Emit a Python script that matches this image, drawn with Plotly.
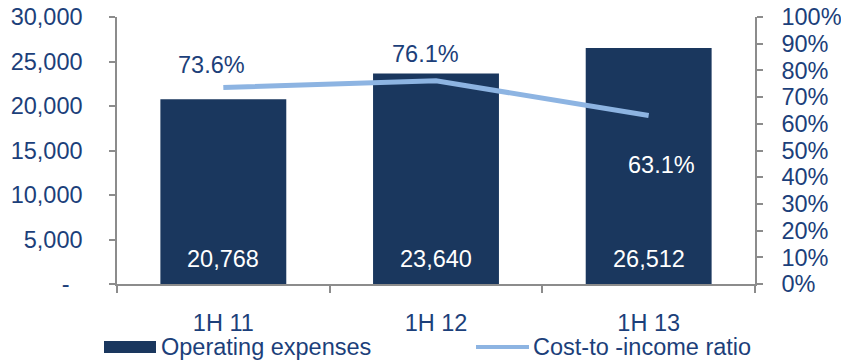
import plotly.graph_objects as go

# Half-year periods
periods = ["1H 11", "1H 12", "1H 13"]
# Operating expenses (bars, left axis)
opex = [20768, 23640, 26512]
# Cost-to-income ratio (line, right axis)
cost_income = [0.736, 0.761, 0.631]

left_ticks = [0, 5000, 10000, 15000, 20000, 25000, 30000]
left_tick_text = ["-\u00a0\u00a0", "5,000", "10,000", "15,000", "20,000", "25,000", "30,000"]

TEXT = "#1C3F7A"
BAR = "#1A375E"
LINE = "#8DB4E2"
AXIS = "#8C8C8C"
FONT = "Liberation Sans, Arial, sans-serif"
FS = 23.5

W, H = 841, 360
L, R, T, B = 117, 86, 17, 76
PW, PH = W - L - R, H - T - B


def px_x(x):
    return (x - L) / PW


def px_y(y):
    return (H - B - y) / PH


fig = go.Figure()

fig.add_trace(go.Bar(
    x=periods, y=opex, marker=dict(color=BAR, line=dict(width=0)),
    name="Operating expenses", showlegend=False, yaxis="y",
))
fig.add_trace(go.Scatter(
    x=periods, y=cost_income, mode="lines", line=dict(color=LINE, width=5),
    name="Cost-to -income ratio", showlegend=False, yaxis="y2",
))

# Value labels at the foot of each bar
for p, v in zip(periods, opex):
    fig.add_annotation(x=p, y=0, xref="x", yref="y", text=f"{v:,}",
                       showarrow=False, yanchor="middle", yshift=25,
                       font=dict(color="white", size=FS, family=FONT))

# Ratio labels next to the line points
ratio_offsets = [(-12, 22, TEXT), (-11, 27, TEXT), (13, -49, "white")]
for p, v, (dx, dy, col) in zip(periods, cost_income, ratio_offsets):
    fig.add_annotation(x=p, y=v, xref="x", yref="y2", text=f"{v*100:.1f}%",
                       showarrow=False, xshift=dx, yshift=dy,
                       font=dict(color=col, size=FS, family=FONT))

# Legend drawn below the category labels
fig.add_shape(type="rect", xref="paper", yref="paper",
              x0=px_x(104), x1=px_x(156), y0=px_y(353), y1=px_y(341),
              fillcolor=BAR, line=dict(width=0))
fig.add_annotation(xref="paper", yref="paper", x=px_x(159), y=px_y(347),
                   xanchor="left", yanchor="middle", showarrow=False,
                   text="Operating expenses", font=dict(color=TEXT, size=FS, family=FONT))
fig.add_shape(type="line", xref="paper", yref="paper",
              x0=px_x(476), x1=px_x(529), y0=px_y(347), y1=px_y(347),
              line=dict(color=LINE, width=4))
fig.add_annotation(xref="paper", yref="paper", x=px_x(531), y=px_y(347),
                   xanchor="left", yanchor="middle", showarrow=False,
                   text="Cost-to -income ratio", font=dict(color=TEXT, size=FS, family=FONT))

fig.update_layout(
    width=W, height=H,
    margin=dict(l=L, r=R, t=T, b=B, pad=0, autoexpand=False),
    paper_bgcolor="white", plot_bgcolor="white",
    bargap=0.408,
    font=dict(family=FONT, size=FS, color=TEXT),
    xaxis=dict(
        type="category", showgrid=False, zeroline=False, automargin=False,
        showline=True, linecolor=AXIS, linewidth=1.5,
        ticks="outside", tickson="boundaries", ticklen=7, tickcolor=AXIS, tickwidth=1.5,
        ticklabelstandoff=17,
        tickfont=dict(color=TEXT, size=FS, family=FONT),
    ),
    yaxis=dict(
        range=[0, 30000], tickvals=left_ticks, ticktext=left_tick_text,
        showgrid=False, zeroline=False, automargin=False,
        showline=True, linecolor=AXIS, linewidth=1.5,
        ticks="outside", ticklen=6, tickcolor=AXIS, tickwidth=1.5,
        ticklabelstandoff=22,
        tickfont=dict(color=TEXT, size=FS, family=FONT),
    ),
    yaxis2=dict(
        range=[0, 1], dtick=0.1, tickformat=".0%", overlaying="y", side="right",
        showgrid=False, zeroline=False, automargin=False,
        showline=True, linecolor=AXIS, linewidth=1.5,
        ticks="outside", ticklen=6, tickcolor=AXIS, tickwidth=1.5,
        ticklabelstandoff=14,
        tickfont=dict(color=TEXT, size=FS, family=FONT),
    ),
)

fig.write_html("out.html")
